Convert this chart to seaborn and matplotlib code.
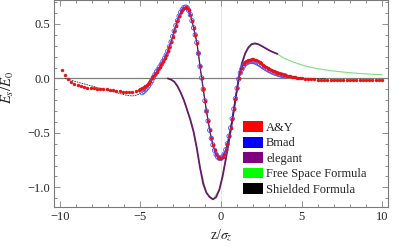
# Longitudinal field comparison, A&Y vs Bmad vs elegant vs formulas
import numpy as np
import pandas as pd
import matplotlib
matplotlib.use("Agg")
import matplotlib.pyplot as plt
import seaborn as sns
from matplotlib.patches import Patch
from matplotlib.ticker import MultipleLocator

# ---- data ----
# A&Y (red dots): coarse left tail, fine core, coarse right tail
ay_left_z = [-9.9, -9.7, -9.5, -9.3, -9.1, -8.9, -8.7, -8.5, -8.3, -8.1, -7.9, -7.7, -7.5,
             -7.3, -7.1, -6.9, -6.7, -6.5, -6.3, -6.1, -5.9, -5.7, -5.5, -5.3, -5.1]
ay_left_es = [0.075, 0.030, -0.005, -0.030, -0.048, -0.060, -0.070, -0.078, -0.084, -0.088,
              -0.091, -0.093, -0.095, -0.097, -0.100, -0.104, -0.108, -0.113, -0.118, -0.123,
              -0.126, -0.126, -0.123, -0.116, -0.106]

core_z = np.round(np.arange(-5.0, 5.05, 0.1), 1)
core_es = [-0.100, -0.092, -0.083, -0.072, -0.060, -0.044, -0.025, 0.000, 0.020, 0.040,
           0.060, 0.083, 0.106, 0.130, 0.157, 0.185, 0.215, 0.250, 0.290, 0.335,
           0.385, 0.435, 0.485, 0.530, 0.572, 0.607, 0.633, 0.650, 0.655, 0.648,
           0.625, 0.585, 0.530, 0.465, 0.400, 0.330, 0.230, 0.110, 0.005, -0.100,
           -0.205, -0.300, -0.390, -0.475, -0.550, -0.610, -0.660, -0.698, -0.722, -0.733,
           -0.733, -0.720, -0.695, -0.655, -0.600, -0.530, -0.455, -0.370, -0.280, -0.185,
           -0.090, 0.000, 0.060, 0.100, 0.130, 0.150, 0.162, 0.170, 0.174, 0.176,
           0.175, 0.172, 0.166, 0.158, 0.148, 0.138, 0.127, 0.116, 0.106, 0.096,
           0.088, 0.080, 0.073, 0.066, 0.059, 0.053, 0.048, 0.043, 0.039, 0.035,
           0.031, 0.027, 0.023, 0.020, 0.017, 0.014, 0.011, 0.008, 0.005, 0.002,
           0.000]

ay_right_z = [5.2, 5.4, 5.6, 5.8, 6.0, 6.2, 6.4, 6.6, 6.8, 7.0, 7.2, 7.4, 7.6, 7.8, 8.0,
              8.2, 8.4, 8.6, 8.8, 9.0, 9.2, 9.4, 9.6, 9.8, 10.0]
ay_right_es = [-0.003, -0.005, -0.007, -0.009, -0.010, -0.011, -0.012, -0.012, -0.013, -0.013,
               -0.014, -0.014, -0.014, -0.015, -0.015, -0.015, -0.015, -0.015, -0.016, -0.016,
               -0.016, -0.016, -0.016, -0.016, -0.016]

# Bmad (blue open circles)
bmad_z = np.round(np.arange(-4.9, 4.05, 0.1), 1)
bmad_es = [-0.130, -0.118, -0.104, -0.088, -0.068, -0.045, -0.020, 0.008, 0.035, 0.060,
           0.083, 0.106, 0.130, 0.157, 0.185, 0.215, 0.250, 0.290, 0.335, 0.385,
           0.435, 0.485, 0.530, 0.572, 0.607, 0.633, 0.650, 0.655, 0.648, 0.625,
           0.585, 0.530, 0.465, 0.400, 0.330, 0.230, 0.110, 0.005, -0.100, -0.205,
           -0.300, -0.390, -0.475, -0.550, -0.610, -0.660, -0.698, -0.722, -0.733, -0.733,
           -0.720, -0.695, -0.655, -0.600, -0.530, -0.455, -0.370, -0.280, -0.185, -0.090,
           -0.005, 0.050, 0.088, 0.115, 0.133, 0.145, 0.152, 0.156, 0.157, 0.156,
           0.152, 0.146, 0.138, 0.129, 0.119, 0.109, 0.099, 0.090, 0.081, 0.073,
           0.066, 0.059, 0.053, 0.047, 0.042, 0.037, 0.033, 0.029, 0.025, 0.022]

# elegant, lower trace (purple)
ele_low_z = [-3.3, -3.1, -2.9, -2.7, -2.5, -2.3, -2.1, -1.9, -1.7, -1.5, -1.3, -1.1, -0.9,
             -0.7, -0.5, -0.3, -0.1, 0.1, 0.3, 0.5, 0.7, 0.9, 1.1, 1.3, 1.5, 1.7, 1.9,
             2.1, 2.3, 2.5, 2.7, 2.9, 3.1, 3.3, 3.5]
ele_low_es = [0.000, -0.010, -0.030, -0.070, -0.130, -0.200, -0.290, -0.380, -0.490, -0.640,
              -0.820, -0.970, -1.050, -1.090, -1.110, -1.090, -1.020, -0.900, -0.740, -0.570,
              -0.390, -0.190, 0.000, 0.140, 0.230, 0.285, 0.315, 0.322, 0.315, 0.300,
              0.283, 0.266, 0.250, 0.238, 0.225]

# free-space formula (green)
free_z = [-4.2, -3.3, -2.9, -2.5, -2.1, -1.7, -1.3, -0.9, -0.5, -0.1, 0.3, 0.7, 1.1, 1.5,
          1.9, 2.3, 2.7, 3.1, 3.5, 3.7, 4.0, 4.5, 5.0, 5.5, 6.0, 6.5, 7.0, 7.5, 8.0, 8.5,
          9.0, 9.5, 10.0]
free_es = [0.000, 0.000, -0.030, -0.130, -0.290, -0.490, -0.820, -1.050, -1.110, -1.020,
           -0.740, -0.390, 0.000, 0.230, 0.315, 0.315, 0.283, 0.250, 0.225, 0.205, 0.180,
           0.150, 0.125, 0.105, 0.090, 0.078, 0.068, 0.060, 0.053, 0.047, 0.042, 0.038, 0.035]

# shielded formula (thin black)
shield_z = [-9.7, -9.5, -9.3, -9.1, -8.9, -8.7, -8.5, -8.3, -8.1, -7.9, -7.7, -7.5, -7.3,
            -7.1, -6.9, -6.7, -6.5, -6.3, -6.1, -5.9, -5.7, -5.5, -5.3, -5.1, -4.9, -4.7,
            -4.5, -4.3, -4.1, -3.9, -3.7, -3.5, -3.3, -3.1, -2.9, -2.7, -2.5, -2.3, -2.1,
            -1.9, -1.7, -1.5, -1.3, -1.1, -0.9, -0.7, -0.5, -0.3, -0.1, 0.1, 0.3, 0.5,
            0.7, 0.9, 1.1, 1.3, 1.5, 1.7, 1.9, 2.1, 2.3, 2.5, 2.7, 2.9, 3.1, 3.3, 3.5,
            3.7, 3.9, 4.1, 4.3, 4.5, 4.7, 4.9, 5.1, 5.3, 5.5, 5.7, 5.9, 6.1, 6.3, 6.5]
shield_es = [0.000, -0.008, -0.016, -0.025, -0.033, -0.042, -0.050, -0.058, -0.066, -0.074,
             -0.082, -0.090, -0.098, -0.106, -0.114, -0.122, -0.130, -0.138, -0.146, -0.153,
             -0.158, -0.160, -0.156, -0.145, -0.128, -0.104, -0.070, -0.022, 0.035, 0.083,
             0.130, 0.185, 0.250, 0.335, 0.435, 0.530, 0.607, 0.650, 0.648, 0.585,
             0.465, 0.330, 0.110, -0.100, -0.300, -0.475, -0.610, -0.698, -0.733, -0.720,
             -0.655, -0.530, -0.370, -0.185, 0.000, 0.100, 0.150, 0.170, 0.176, 0.172,
             0.158, 0.138, 0.116, 0.096, 0.080, 0.066, 0.053, 0.043, 0.035, 0.027,
             0.020, 0.014, 0.009, 0.005, 0.003, 0.002, 0.001, 0.000, 0.000, 0.000,
             0.000, 0.000]

legend_labels = ["A&Y", "Bmad", "elegant", "Free Space Formula", "Shielded Formula"]
legend_colors = ["#ff0000", "#0000ff", "#800080", "#00ff00", "#000000"]

# ---- tables ----
ay = pd.DataFrame({"z": list(ay_left_z) + list(core_z) + list(ay_right_z),
                   "es": ay_left_es + core_es + ay_right_es})
bmad = pd.DataFrame({"z": bmad_z, "es": bmad_es})
ele_up = pd.DataFrame({"z": core_z, "es": core_es})
ele_low = pd.DataFrame({"z": ele_low_z, "es": ele_low_es})
free = pd.DataFrame({"z": free_z, "es": free_es})
shield = pd.DataFrame({"z": shield_z, "es": shield_es})

# ---- plotting ----
sns.set_style("ticks")
plt.rcParams["font.family"] = ["Liberation Serif", "DejaVu Serif"]
plt.rcParams["mathtext.fontset"] = "stix"

fig, ax = plt.subplots(figsize=(4.15, 2.47), dpi=100)
fig.subplots_adjust(left=0.130, right=0.935, bottom=0.162, top=0.999)

ax.axvline(0, color="#e4e4e4", lw=0.6, zorder=0)
ax.axhline(0, color="#808080", lw=0.9, zorder=2.5)

sns.lineplot(data=free, x="z", y="es", ax=ax, color="#7de07d", lw=0.8, sort=False,
             estimator=None, zorder=2)
sns.lineplot(data=shield, x="z", y="es", ax=ax, color="#333333", lw=0.6, sort=False,
             estimator=None, zorder=3, linestyle=(0, (2.0, 1.0)))
sns.lineplot(data=ele_low, x="z", y="es", ax=ax, color="#6a1a6a", lw=1.3, sort=False,
             estimator=None, zorder=4)
sns.lineplot(data=ele_up, x="z", y="es", ax=ax, color="#5a1a5a", lw=0.9, sort=False,
             estimator=None, zorder=4)
sns.scatterplot(data=bmad, x="z", y="es", ax=ax, marker="o", s=10, facecolor="none",
                edgecolor="#5050ff", linewidth=0.6, zorder=5)
sns.scatterplot(data=ay, x="z", y="es", ax=ax, marker="o", s=6, color="#ee1111",
                linewidth=0, zorder=6)

ax.set_xlim(-10.37, 10.37)
ax.set_ylim(-1.18, 0.718)
ax.set_xticks([-10, -5, 0, 5, 10])
ax.set_yticks([-1.0, -0.5, 0.0, 0.5])
ax.xaxis.set_minor_locator(MultipleLocator(1))
ax.yaxis.set_minor_locator(MultipleLocator(0.1))
ax.tick_params(which="both", direction="in", top=True, right=True, color="#808080",
               width=0.6, labelsize=9, pad=3)
ax.tick_params(which="major", length=4)
ax.tick_params(which="minor", length=2)
for sp in ax.spines.values():
    sp.set_color("#7a7a7a")
    sp.set_linewidth(0.8)

ax.set_xlabel(r"z/$\sigma_z$", fontsize=10)
ax.set_ylabel(r"$E_s/E_0$", fontsize=10.5)
ax.xaxis.set_label_coords(0.5, -0.10)
ax.yaxis.set_label_coords(-0.115, 0.58)

handles = [Patch(facecolor=c, edgecolor="none") for c in legend_colors]
ax.legend(handles, legend_labels, loc="upper left", bbox_to_anchor=(0.566, 0.415),
          frameon=False, fontsize=9, handlelength=1.6, handleheight=0.96,
          handletextpad=0.25, labelspacing=0.22, borderpad=0, borderaxespad=0)

fig.savefig("out.png", dpi=100)
